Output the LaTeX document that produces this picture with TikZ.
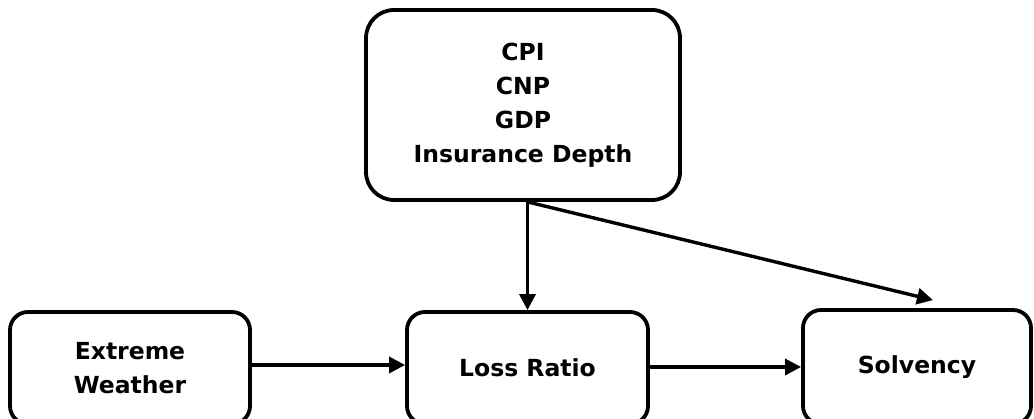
\documentclass[tikz,border=0pt]{standalone}
\usepackage{fontspec}
\setmainfont{DejaVu Sans}
\usetikzlibrary{arrows.meta}
\begin{document}
\begin{tikzpicture}[x=1pt,y=1pt,
  box/.style={draw=black, line width=3.8pt, fill=white, inner sep=0pt,
    align=center, font=\bfseries\fontsize{23.5}{34}\selectfont},
  link/.style={line width=3.4pt, -{Triangle[length=16pt,width=16pt]}}]
  \useasboundingbox (0,0) rectangle (1034,419);
  \clip (0,0) rectangle (1034,419);
  % drivers on top
  \node[box, rounded corners=28pt, minimum width=314pt, minimum height=190pt]
    (macro) at (523,314) {CPI\\CNP\\GDP\\Insurance Depth};
  % bottom row
  \node[box, rounded corners=18pt, minimum width=240pt, minimum height=112pt]
    (weather) at (130,51) {Extreme\\Weather};
  \node[box, rounded corners=18pt, minimum width=241pt, minimum height=112pt]
    (loss) at (527.5,51) {Loss Ratio};
  \node[box, rounded corners=18pt, minimum width=228pt, minimum height=114pt]
    (solv) at (917,52) {Solvency};
  % connectors
  \coordinate (fork) at (loss.north |- macro.south);
  \coordinate (solvin) at ([xshift=16pt,yshift=8pt]solv.north);
  \draw[link] (fork) -- (loss.north);
  \draw[link] (fork) -- (solvin);
  \draw[link] ([yshift=3pt]weather.east) -- ([yshift=3pt]weather.east -| loss.west);
  \draw[link] ([yshift=1pt]loss.east) -- ([yshift=1pt]loss.east -| solv.west);
\end{tikzpicture}
\end{document}
